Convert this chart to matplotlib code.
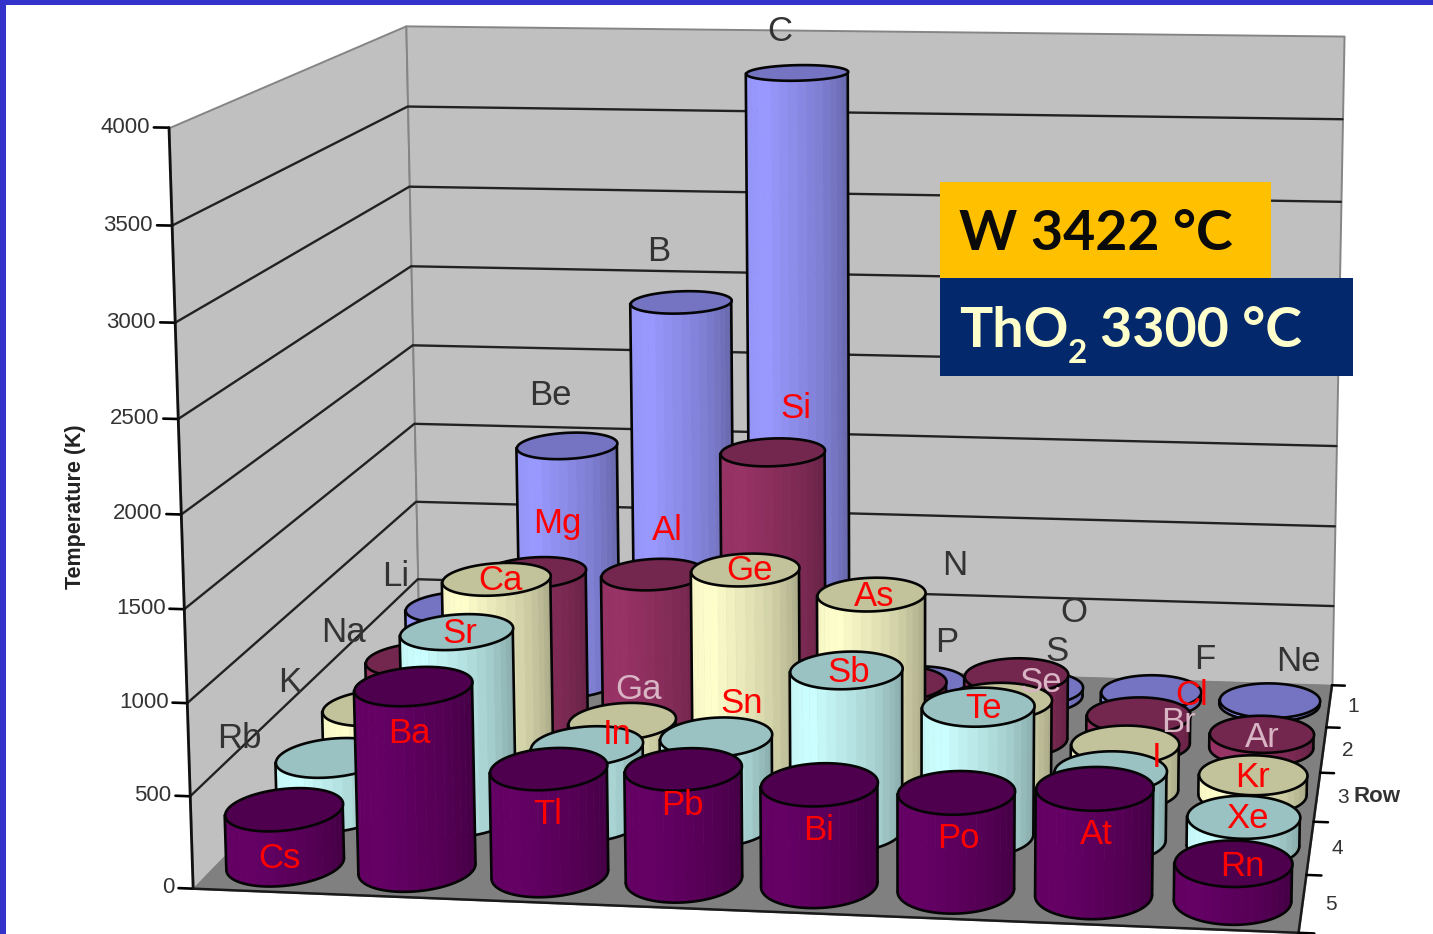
import numpy as np
import matplotlib
matplotlib.use("Agg")
import matplotlib.pyplot as plt
from matplotlib.patches import Rectangle
from mpl_toolkits.mplot3d import proj3d
from mpl_toolkits.mplot3d.art3d import Poly3DCollection

# ---- data (melting points in K) ----
row1_names = ["Li", "Be", "B", "C", "N", "O", "F", "Ne"]
row2_names = ["Na", "Mg", "Al", "Si", "P", "S", "Cl", "Ar"]
row3_names = ["K", "Ca", "Ga", "Ge", "As", "Se", "Br", "Kr"]
row4_names = ["Rb", "Sr", "In", "Sn", "Sb", "Te", "I", "Xe"]
row5_names = ["Cs", "Ba", "Tl", "Pb", "Bi", "Po", "At", "Rn"]
row1_values = [453, 1490, 2395, 3800, 63, 54, 53, 25]
row2_values = [370, 923, 933, 1687, 317, 388, 172, 84]
row3_values = [336, 1115, 303, 1211, 1090, 494, 266, 116]
row4_values = [312, 1050, 430, 505, 904, 723, 387, 161]
row5_values = [302, 1000, 577, 601, 544, 527, 575, 202]
row_colors = ["#9999FF", "#993366", "#FFFFCC", "#CCFFFF", "#660066"]
z_ticks = [0, 500, 1000, 1500, 2000, 2500, 3000, 3500, 4000]
row_ticks = [1, 2, 3, 4, 5]
pale_labels = ["Ga", "Se", "Br", "Ar"]
dark_labels = ["Li", "Be", "B", "C", "N", "O", "F", "Ne", "Na", "P", "S", "K", "Rb"]

# element label offsets from the top of each cylinder, in pixels
label_dx = [[-60, -16, -22, -17, 39, 41, 54, 29],
            [-74, 24, 14, 23, 52, 41, 53, 1],
            [-87, 4, 17, 5, 3, 43, 54, 0],
            [-93, 3, 30, 26, 3, 6, 46, 4],
            [-4, -4, -1, -1, 0, 2, 2, 9]]
label_dy = [[30, 50, 50, 41, 117, 75, 32, 38],
            [26, 49, 43, 43, 40, 24, 19, -4],
            [24, -2, 31, -1, -3, 18, 22, -3],
            [19, -2, 11, 33, -3, -2, 14, -2],
            [-50, -48, -46, -37, -47, -46, -47, -4]]

all_names = [row1_names, row2_names, row3_names, row4_names, row5_names]
all_values = [row1_values, row2_values, row3_values, row4_values, row5_values]

W, H = 1433, 934
plt.rcParams["font.family"] = ["Liberation Sans", "DejaVu Sans"]
fig = plt.figure(figsize=(W / 100, H / 100), dpi=100, facecolor="white")
AX_PX, AX_L, AX_B = 1502, 36, 1205
ax = fig.add_axes([AX_L / W, (H - AX_B) / H, AX_PX / W, AX_PX / H], projection="3d", computed_zorder=False)
ELEV, AZIM, ROLL, FOCAL = 11.0, -81.5, 0.25, 0.55
ASPECT = np.array([1.012, 0.9, 0.704])
ax.set_box_aspect(ASPECT)
ax.set_proj_type("persp", focal_length=FOCAL)
ax.view_init(elev=ELEV, azim=AZIM, roll=ROLL)
ax.set_xlim(0, 8); ax.set_ylim(0, 5); ax.set_zlim(0, 4000)
ax.set_axis_off()
ax.patch.set_alpha(0)
M = ax.get_proj()

def anchor(text, x, y, z, dx=0, dy=0, **kw):
    x2, y2, _ = proj3d.proj_transform(x, y, z, M)
    kw.setdefault("ha", "center")
    return ax.annotate(text, xy=(x2, y2), xycoords="data", xytext=(dx, dy), textcoords="offset pixels",
                       va="center", annotation_clip=False, **kw)

# --- walls and floor
def poly(verts, **kw):
    c = Poly3DCollection([verts], **kw)
    c.set_clip_on(False)
    ax.add_collection3d(c, autolim=False)
    return c

WALL, FLOOR, EDGE = "#C0C0C0", "#808080", "#858585"
poly([(0, 0, 0), (0, 5, 0), (0, 5, 4000), (0, 0, 4000)], facecolors=WALL, edgecolors=EDGE, linewidths=1.4, zorder=1)
poly([(0, 5, 0), (8, 5, 0), (8, 5, 4000), (0, 5, 4000)], facecolors=WALL, edgecolors=EDGE, linewidths=1.4, zorder=1)
poly([(0, 0, 0), (8, 0, 0), (8, 5, 0), (0, 5, 0)], facecolors=FLOOR, edgecolors=FLOOR, linewidths=1, zorder=2)

def line(xs, ys, zs, zorder=3, color="#111111", lw=1.5):
    ax.plot(xs, ys, zs, color=color, lw=lw, zorder=zorder, clip_on=False, solid_capstyle="round")

for z in z_ticks[1:-1]:
    line([0, 0, 8], [0, 5, 5], [z, z, z], color="#222222", lw=1.7)
for z in z_ticks:
    line([0, -0.11], [0, 0], [z, z], color="black", lw=1.9)
    anchor(str(z), -0.14, 0, z, ha="right", fontsize=16, color="#333333", zorder=900)
line([0, 0], [0, 0], [0, 4000], color="#111111", lw=2.0, zorder=3)
line([0, 8, 8], [0, 0, 5], [0, 0, 0], color="#1A1A1A", lw=1.8, zorder=3)
for i in range(6):
    line([8, 8.11], [i, i], [0, 0], color="black", lw=1.8)
for i, r in enumerate(row_ticks):
    anchor(str(r), 8.2, 5 - i - 0.5, 0, fontsize=15, color="#333333", zorder=900)

# --- cylinders
RX = 0.42
world_scale = 1.8294640721620434 * 25 / 24 / np.linalg.norm(ASPECT)
ux = ASPECT[0] * world_scale / 8
uy = ASPECT[1] * world_scale / 5
RY = 1.4 * RX * ux / uy
e, a = np.radians(ELEV), np.radians(AZIM)
EYE = 10 * FOCAL
EYE_X = 4 + EYE * np.cos(e) * np.cos(a) / ux
EYE_Y = 2.5 + EYE * np.cos(e) * np.sin(a) / uy

def scale(hexcol, f):
    return tuple(np.array(matplotlib.colors.to_rgb(hexcol)) * f)

def cylinder(cx, cy, h, color, base):
    dx, dy = (EYE_X - cx) / RX, (EYE_Y - cy) / RY
    phi = np.arctan2(dy, dx)
    half = np.arccos(1 / np.hypot(dx, dy))
    edges = np.linspace(phi - half, phi + half, 19)
    verts, cols = [], []
    for t0, t1 in zip(edges[:-1], edges[1:]):
        p0 = (cx + RX * np.cos(t0), cy + RY * np.sin(t0))
        p1 = (cx + RX * np.cos(t1), cy + RY * np.sin(t1))
        verts.append([(*p0, 0), (*p1, 0), (*p1, h), (*p0, h)])
        s = np.sin(0.5 * (t0 + t1) - phi)
        f = np.interp(s, [-1, -0.6, 0, 0.5, 0.85, 1], [0.97, 1.0, 0.9, 0.82, 0.72, 0.66])
        cols.append(scale(color, f))
    body = Poly3DCollection(verts, facecolors=cols, edgecolors=cols, linewidths=0.5, zorder=base)
    body.set_clip_on(False)
    ax.add_collection3d(body, autolim=False)
    arc = np.linspace(phi - half, phi + half, 40)
    line(cx + RX * np.cos(arc), cy + RY * np.sin(arc), np.zeros_like(arc), zorder=base + 0.1, color="#050505", lw=1.9)
    for t in (phi - half, phi + half):
        line([cx + RX * np.cos(t)] * 2, [cy + RY * np.sin(t)] * 2, [0, h], zorder=base + 0.1, color="#050505", lw=1.9)
    th = np.linspace(0, 2 * np.pi, 73)[:-1]
    cap = Poly3DCollection([list(zip(cx + RX * np.cos(th), cy + RY * np.sin(th), np.full_like(th, h)))],
                           facecolors=[scale(color, 0.76)], edgecolors="#050505", linewidths=1.9, zorder=base + 0.2)
    cap.set_clip_on(False)
    ax.add_collection3d(cap, autolim=False)

for r, (names, values) in enumerate(zip(all_names, all_values)):
    for c, v in enumerate(values):
        cylinder(c + 0.5, 4.5 - r, v, row_colors[r], 10 + r * 10 + c)

# --- element labels, anchored on the top of each cylinder
for r, (names, values) in enumerate(zip(all_names, all_values)):
    for c, (n, v) in enumerate(zip(names, values)):
        col = "#D8B4C4" if n in pale_labels else ("#333333" if n in dark_labels else "#FF0000")
        anchor(n, c + 0.5, 4.5 - r, v, label_dx[r][c], label_dy[r][c], fontsize=25, color=col, zorder=1000)

def fx(x): return x / W
def fy(y): return 1 - y / H

fig.text(fx(76), fy(507), "Temperature (K)", rotation=90, ha="center", va="center", fontsize=15.5, fontweight="bold", color="#222222")
fig.text(fx(1377), fy(797), "Row", ha="center", va="center", fontsize=16, fontweight="bold", color="#333333")

# --- frame and callouts
fig.add_artist(Rectangle((0, fy(5)), 1, 5 / H, transform=fig.transFigure, fc="#3333CC", ec="none", zorder=5))
fig.add_artist(Rectangle((0, 0), 6 / W, 1, transform=fig.transFigure, fc="#3333CC", ec="none", zorder=5))
fig.add_artist(Rectangle((fx(940), fy(278)), 331 / W, 96 / H, transform=fig.transFigure, fc="#FFC000", ec="none", zorder=5))
fig.add_artist(Rectangle((fx(940), fy(376)), 413 / W, 98 / H, transform=fig.transFigure, fc="#03286B", ec="none", zorder=5))
BOLD = dict(family=["Lato", "DejaVu Sans"], fontweight="bold", va="baseline", ha="left", zorder=6)
fig.text(fx(959), fy(250), "W 3422 °C", color="#0A0A0A", fontsize=40, **BOLD)
fig.text(fx(959), fy(347), "ThO", color="#FFFFCC", fontsize=40, **BOLD)
fig.text(fx(1068), fy(363), "2", color="#FFFFCC", fontsize=24, **BOLD)
fig.text(fx(1100), fy(347), "3300 °C", color="#FFFFCC", fontsize=40, **BOLD)

fig.savefig("out.png", dpi=100)
